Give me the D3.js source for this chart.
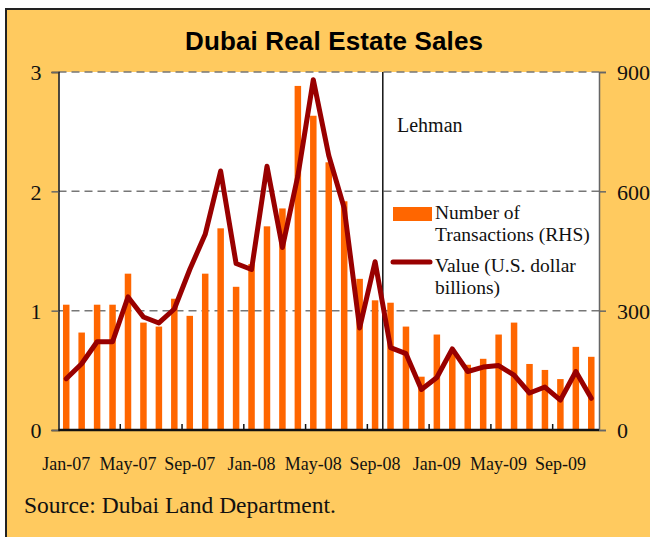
<!DOCTYPE html>
<html>
<head>
<meta charset="utf-8">
<script src="https://cdn.jsdelivr.net/npm/d3@7"></script>
<style>
	body { margin: 0; background: white; }
	svg { display: block; }
	.serif { font-family: 'Liberation Serif', 'Times New Roman', serif; fill: #111; }
</style>
</head>
<body>
<svg id="chart" width="650" height="537"></svg>
<script>
// Jan-07 .. Nov-09
const months = ['Jan-07', 'Feb-07', 'Mar-07', 'Apr-07', 'May-07', 'Jun-07', 'Jul-07', 'Aug-07', 'Sep-07', 'Oct-07', 'Nov-07', 'Dec-07',
	'Jan-08', 'Feb-08', 'Mar-08', 'Apr-08', 'May-08', 'Jun-08', 'Jul-08', 'Aug-08', 'Sep-08', 'Oct-08', 'Nov-08', 'Dec-08',
	'Jan-09', 'Feb-09', 'Mar-09', 'Apr-09', 'May-09', 'Jun-09', 'Jul-09', 'Aug-09', 'Sep-09', 'Oct-09', 'Nov-09'];
// number of transactions (RHS)
const transactions = [315, 245, 315, 315, 393, 270, 260, 330, 287, 393, 507, 360,
	417, 512, 557, 865, 790, 673, 575, 380, 326, 320, 260, 134,
	240, 200, 164, 179, 240, 270, 166, 151, 128, 209, 184];
// value, U.S. dollar billions (LHS)
const values = [0.43, 0.555, 0.74, 0.74, 1.115, 0.947, 0.897, 1.014, 1.345, 1.64, 2.17, 1.395,
	1.345, 2.21, 1.53, 2.13, 2.935, 2.30, 1.86, 0.855, 1.41, 0.69, 0.64, 0.34,
	0.44, 0.68, 0.49, 0.527, 0.54, 0.46, 0.31, 0.36, 0.25, 0.49, 0.266];
const leftTicks = [0, 1, 2, 3];
const rightTicks = [0, 300, 600, 900];
const labelMonths = ['Jan-07', 'May-07', 'Sep-07', 'Jan-08', 'May-08', 'Sep-08', 'Jan-09', 'May-09', 'Sep-09'];
const lehmanMonth = 'Oct-08';

const svg = d3.select('#chart');
const plot = { left: 58.5, right: 599, top: 72, bottom: 430 };

// frame
svg.append('rect')
	.attr('x', 6).attr('y', 9)
	.attr('width', 660).attr('height', 540)
	.attr('fill', '#FFCA5F')
	.attr('stroke', '#222')
	.attr('stroke-width', 2);

svg.append('text')
	.attr('x', 334).attr('y', 50)
	.attr('text-anchor', 'middle')
	.attr('font-family', "'Liberation Sans', Arial, sans-serif")
	.attr('font-weight', 'bold')
	.attr('font-size', 26)
	.attr('textLength', 298)
	.text('Dubai Real Estate Sales');

const x = d3.scaleBand().domain(months).range([plot.left, plot.right]).padding(0);
const yL = d3.scaleLinear().domain([0, 3]).range([plot.bottom, plot.top]);
const yR = d3.scaleLinear().domain([0, 900]).range([plot.bottom, plot.top]);

svg.append('rect')
	.attr('x', plot.left).attr('y', plot.top)
	.attr('width', plot.right - plot.left).attr('height', plot.bottom - plot.top)
	.attr('fill', 'white');

// gridlines
svg.append('g').selectAll('line').data(leftTicks.filter((d) => d > 0)).enter().append('line')
	.attr('x1', plot.left).attr('x2', plot.right)
	.attr('y1', (d) => yL(d)).attr('y2', (d) => yL(d))
	.attr('stroke', '#777')
	.attr('stroke-width', 1.5)
	.attr('stroke-dasharray', '8,5');

// bars
const barW = 6.5;
svg.append('g').selectAll('rect').data(months).enter().append('rect')
	.attr('x', (d) => x(d) + x.bandwidth() / 2 - barW / 2)
	.attr('y', (d, i) => yR(transactions[i]))
	.attr('width', barW)
	.attr('height', (d, i) => plot.bottom - yR(transactions[i]))
	.attr('fill', '#FF6600');

// Lehman marker
svg.append('line')
	.attr('x1', x(lehmanMonth)).attr('x2', x(lehmanMonth))
	.attr('y1', plot.top).attr('y2', plot.bottom)
	.attr('stroke', '#111')
	.attr('stroke-width', 1.5);
svg.append('text').attr('class', 'serif')
	.attr('x', 397).attr('y', 132)
	.attr('font-size', 20)
	.text('Lehman');

// value line
const line = d3.line()
	.x((d, i) => x(months[i]) + x.bandwidth() / 2)
	.y((d) => yL(d));
svg.append('path')
	.datum(values)
	.attr('d', line)
	.attr('fill', 'none')
	.attr('stroke', '#990000')
	.attr('stroke-width', 5)
	.attr('stroke-linejoin', 'round')
	.attr('stroke-linecap', 'round');

// axes
const leftAxis = svg.append('g')
	.attr('transform', `translate(${plot.left},0)`)
	.call(d3.axisLeft(yL).tickValues(leftTicks).tickSize(7).tickFormat(d3.format('d')));
leftAxis.select('.domain').attr('stroke', '#111').attr('stroke-width', 1.5);
leftAxis.selectAll('.tick line').attr('stroke', '#666').attr('stroke-width', 1.5);
leftAxis.selectAll('.tick text')
	.attr('class', 'serif')
	.attr('font-size', 22)
	.attr('x', -17)
	.attr('dy', '0.35em');

const rightAxis = svg.append('g')
	.attr('transform', `translate(${plot.right},0)`)
	.call(d3.axisRight(yR).tickValues(rightTicks).tickSize(7).tickFormat(d3.format('d')));
rightAxis.select('.domain').attr('stroke', '#666').attr('stroke-width', 1.5);
rightAxis.selectAll('.tick line').attr('stroke', '#666').attr('stroke-width', 1.5);
rightAxis.selectAll('.tick text')
	.attr('class', 'serif')
	.attr('font-size', 22)
	.attr('x', 18)
	.attr('dy', '0.35em');

// bottom axis: ticks on month boundaries every 4 months, labels centred on months
const bottom = svg.append('g');
bottom.append('line')
	.attr('x1', plot.left).attr('x2', plot.right)
	.attr('y1', plot.bottom).attr('y2', plot.bottom)
	.attr('stroke', '#111')
	.attr('stroke-width', 2.5);
bottom.selectAll('line.tick').data(labelMonths.slice(1)).enter().append('line')
	.attr('class', 'tick')
	.attr('x1', (d) => x(d)).attr('x2', (d) => x(d))
	.attr('y1', plot.bottom).attr('y2', plot.bottom - 6)
	.attr('stroke', '#111')
	.attr('stroke-width', 1.5);
bottom.selectAll('text').data(labelMonths).enter().append('text')
	.attr('class', 'serif')
	.attr('x', (d) => x(d) + x.bandwidth() / 2)
	.attr('y', 470)
	.attr('text-anchor', 'middle')
	.attr('font-size', 18)
	.text((d) => d);

// legend
const legend = svg.append('g').attr('class', 'serif').attr('font-size', 19.5);
legend.append('rect')
	.attr('x', 393).attr('y', 207)
	.attr('width', 39).attr('height', 14)
	.attr('fill', '#FF6600');
legend.append('text').attr('x', 435).attr('y', 219).text('Number of');
legend.append('text').attr('x', 435).attr('y', 241).text('Transactions (RHS)');
legend.append('line')
	.attr('x1', 393).attr('x2', 430)
	.attr('y1', 262).attr('y2', 262)
	.attr('stroke', '#990000')
	.attr('stroke-width', 5)
	.attr('stroke-linecap', 'round');
legend.append('text').attr('x', 435).attr('y', 272).text('Value (U.S. dollar');
legend.append('text').attr('x', 435).attr('y', 294).text('billions)');

svg.append('text').attr('class', 'serif')
	.attr('x', 24).attr('y', 513)
	.attr('font-size', 23.5)
	.text('Source: Dubai Land Department.');
</script>
</body>
</html>
